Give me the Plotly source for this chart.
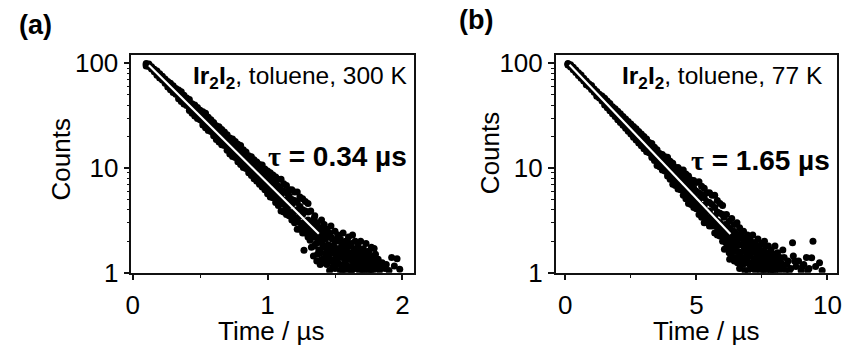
import numpy as np
import plotly.graph_objects as go

# ---------------- panel (a): Ir2I2 in toluene, 300 K ----------------
time_a = [0.10, 0.12, 0.14, 0.16, 0.18, 0.20, 0.22, 0.24, 0.26, 0.28,
          0.30, 0.32, 0.34, 0.36, 0.38, 0.40, 0.42, 0.44, 0.46, 0.48,
          0.50, 0.52, 0.54, 0.56, 0.58, 0.60, 0.62, 0.64, 0.66, 0.68,
          0.70, 0.72, 0.74, 0.76, 0.78, 0.80, 0.82, 0.84, 0.86, 0.88,
          0.90, 0.92, 0.94, 0.96, 0.98, 1.00, 1.02, 1.04, 1.06, 1.08,
          1.10, 1.12, 1.14, 1.16, 1.18, 1.20, 1.22, 1.24, 1.26, 1.28, 1.30]
upper_a = [99.5, 98.6, 93.0, 87.7, 84.6, 79.7, 75.2, 70.9, 67.2, 64.6,
           61.0, 57.5, 55.6, 53.5, 49.5, 46.6, 45.1, 41.2, 40.1, 37.8,
           35.6, 34.5, 33.4, 30.6, 28.9, 27.2, 25.4, 24.8, 23.4, 22.1,
           20.8, 19.4, 19.0, 17.9, 16.9, 16.4, 15.0, 14.2, 13.1, 12.8,
           12.0, 11.4, 10.8, 10.7, 9.8, 9.4, 9.0, 8.6, 8.2, 7.8,
           7.8, 7.1, 6.8, 6.2, 6.2, 5.9, 5.9, 5.3, 5.1, 4.8, 4.6]
mid_a = [97.0, 96.5, 90.0, 86.0, 80.0, 76.5, 71.0, 68.0, 63.0, 60.5,
         56.0, 54.0, 50.0, 48.0, 44.5, 42.5, 39.5, 38.0, 35.0, 33.8,
         31.2, 30.0, 27.7, 26.7, 24.6, 23.8, 21.8, 21.2, 19.4, 18.9,
         17.8, 16.1, 15.9, 14.3, 14.2, 12.7, 12.6, 11.2, 11.3, 10.0,
         10.0, 8.9, 8.9, 7.9, 7.9, 7.0, 7.1, 6.2, 6.3, 5.5,
         5.6, 4.9, 5.0, 4.4, 4.5, 3.9, 4.0, 3.5, 3.6, 3.1, 3.2]
lower_a = [94.5, 93.3, 88.1, 83.0, 76.8, 72.4, 69.5, 64.4, 59.3, 55.9,
           52.7, 50.8, 45.8, 43.2, 40.8, 39.5, 35.4, 33.3, 31.5, 29.7,
           28.9, 25.8, 24.3, 22.9, 22.3, 20.4, 18.7, 17.7, 16.7, 16.4,
           14.8, 13.6, 12.9, 12.6, 11.5, 10.8, 10.1, 9.9, 9.0, 8.5,
           7.9, 7.5, 7.0, 6.6, 6.2, 5.7, 5.3, 5.2, 4.7, 4.4,
           3.9, 3.8, 3.6, 3.5, 3.2, 3.0, 2.6, 2.6, 2.4, 2.4, 2.2]
inner_hi_a = [None] * 21 + [
              31.9, 30.1, 28.4, 26.8, 25.2, 24.0, 22.7, 21.4, 20.2,
              19.0, 18.2, 17.2, 16.2, 15.3, 14.4, 13.5, 12.7, 12.1, 11.4,
              10.7, 10.1, 9.5, 9.0, 8.5, 8.2, 7.6, 7.4, 7.1, 6.7,
              6.2, 6.0, 5.8, 5.4, 5.0, 4.9, 4.7, 4.3, 4.0, 3.9, 3.8]
inner_lo_a = [None] * 21 + [
              27.6, 26.0, 24.5, 23.1, 21.8, 20.3, 19.2, 18.1, 17.1,
              16.1, 15.0, 14.1, 13.3, 12.6, 11.9, 11.1, 10.5, 9.9, 9.4,
              8.8, 8.3, 7.8, 7.4, 7.0, 6.3, 6.0, 5.8, 5.3, 4.9,
              4.7, 4.5, 4.1, 3.8, 3.7, 3.4, 3.3, 3.0, 2.9, 2.7, 2.5]

tail_time_a = [1.27, 1.32, 1.32, 1.33, 1.34, 1.34, 1.35, 1.35, 1.36, 1.37,
               1.37, 1.38, 1.39, 1.39, 1.40, 1.40, 1.41, 1.41, 1.42, 1.43,
               1.43, 1.44, 1.44, 1.45, 1.46, 1.46, 1.47, 1.47, 1.48, 1.48,
               1.49, 1.50, 1.50, 1.51, 1.51, 1.52, 1.52, 1.53, 1.54, 1.54,
               1.55, 1.55, 1.56, 1.56, 1.57, 1.58, 1.58, 1.59, 1.59, 1.60,
               1.60, 1.61, 1.62, 1.62, 1.63, 1.63, 1.64, 1.65, 1.65, 1.66,
               1.67, 1.67, 1.68, 1.68, 1.69, 1.70, 1.70, 1.71, 1.72, 1.72,
               1.73, 1.74, 1.75, 1.75, 1.76, 1.77, 1.77, 1.78, 1.79, 1.79,
               1.80, 1.81, 1.82, 1.83, 1.85, 1.87, 1.88, 1.90, 1.92, 1.94,
               1.96, 1.98,
               1.33, 1.345, 1.355, 1.365, 1.375, 1.385, 1.395, 1.405, 1.415, 1.425,
               1.435, 1.445, 1.455, 1.465, 1.475, 1.485, 1.495, 1.505, 1.515, 1.525,
               1.535, 1.545, 1.555, 1.565, 1.575, 1.585, 1.595, 1.605, 1.615, 1.625,
               1.635, 1.645, 1.655, 1.665, 1.675, 1.685, 1.695, 1.705, 1.715, 1.725,
               1.735, 1.745, 1.755, 1.765, 1.775, 1.785, 1.795, 1.805, 1.815, 1.835,
               1.305, 1.315, 1.325, 1.335, 1.345, 1.36, 1.37, 1.38, 1.39, 1.40,
               1.41, 1.42, 1.43, 1.44, 1.45, 1.46, 1.47, 1.48, 1.49, 1.50,
               1.51, 1.52, 1.53, 1.54, 1.55, 1.56, 1.57, 1.58, 1.59, 1.60,
               1.61, 1.62, 1.63, 1.64, 1.66, 1.68, 1.70, 1.72, 1.74, 1.76]
tail_counts_a = [1.64, 3.9, 2.6, 3.1, 2.2, 1.45, 3.5, 2.8, 1.9, 3.0,
                 2.4, 1.65, 2.7, 2.0, 1.34, 3.2, 2.3, 1.75, 2.9, 1.5,
                 2.1, 2.6, 1.2, 1.85, 2.4, 1.05, 1.6, 2.8, 2.1, 1.3,
                 1.8, 2.5, 1.1, 1.5, 2.0, 1.25, 2.3, 1.7, 2.1, 1.05,
                 1.45, 1.85, 2.4, 1.2, 1.6, 2.0, 1.05, 1.35, 1.75, 2.2,
                 1.15, 1.55, 1.9, 1.05, 1.3, 2.3, 1.7, 1.1, 2.0, 1.45,
                 1.8, 1.2, 1.05, 1.6, 2.0, 1.35, 1.1, 1.7, 1.5, 1.05,
                 1.9, 1.25, 1.6, 1.05, 1.4, 1.75, 1.15, 1.05, 1.71, 1.3,
                 1.5, 1.1, 1.35, 1.05, 1.25, 1.1, 1.2, 1.05, 1.4, 1.16,
                 1.36, 1.08,
                 2.4, 1.8, 2.5, 1.3, 2.05, 2.4, 1.55, 1.9, 1.25, 2.2,
                 1.75, 1.45, 2.25, 1.35, 1.75, 1.15, 2.05, 1.4, 1.2, 1.6,
                 1.4, 1.7, 1.05, 1.9, 1.25, 1.55, 1.15, 1.8, 1.35, 1.05,
                 1.55, 1.25, 1.55, 1.3, 1.15, 1.45, 1.25, 1.05, 1.4, 1.25,
                 1.15, 1.6, 1.3, 1.05, 1.2, 1.45, 1.1, 1.3, 1.2, 1.15,
                 2.9, 2.05, 1.75, 2.6, 3.3, 2.6, 1.5, 2.2, 1.2, 2.6,
                 1.35, 2.1, 2.45, 1.65, 1.35, 1.8, 2.2, 1.55, 1.15, 1.6,
                 1.25, 1.7, 2.05, 1.55, 1.15, 1.75, 1.35, 1.55, 2.0, 1.35,
                 1.1, 1.45, 1.1, 1.2, 1.25, 1.35, 1.55, 1.25, 1.1, 1.2]

# single-exponential fit, panel (a)
fit_range_a = [0.12, 1.38]
fit_amp_a = 96.0
tau_a = 0.34  # µs

# ---------------- panel (b): Ir2I2 in toluene, 77 K ----------------
time_b = [0.1, 0.2, 0.3, 0.4, 0.5, 0.6, 0.7, 0.8, 0.9, 1.0,
          1.1, 1.2, 1.3, 1.4, 1.5, 1.6, 1.7, 1.8, 1.9, 2.0,
          2.1, 2.2, 2.3, 2.4, 2.5, 2.6, 2.7, 2.8, 2.9, 3.0,
          3.1, 3.2, 3.3, 3.4, 3.5, 3.6, 3.7, 3.8, 3.9, 4.0,
          4.1, 4.2, 4.3, 4.4, 4.5, 4.6, 4.7, 4.8, 4.9, 5.0,
          5.1, 5.2, 5.3, 5.4, 5.5, 5.6, 5.7, 5.8, 5.9, 6.0]
upper_b = [99.5, 97.2, 91.6, 86.3, 81.2, 77.5, 72.1, 67.9, 63.9, 61.5,
           57.0, 53.7, 50.7, 48.8, 46.5, 43.6, 41.3, 38.6, 36.8, 34.8,
           33.0, 31.0, 29.4, 27.8, 26.3, 24.9, 23.7, 22.4, 21.2, 20.0,
           19.0, 17.5, 17.2, 15.8, 15.0, 13.8, 13.5, 12.8, 12.7, 11.6,
           11.1, 10.1, 10.1, 9.6, 9.6, 8.8, 8.4, 7.7, 7.6, 7.3,
           7.4, 6.7, 6.4, 5.8, 5.8, 5.5, 5.5, 4.9, 4.6, 4.4]
mid_b = [98.0, 94.5, 89.5, 83.5, 79.3, 74.0, 70.3, 65.5, 62.3, 58.0,
         55.3, 51.3, 49.0, 45.4, 43.4, 40.2, 38.5, 35.6, 34.2, 31.5,
         30.3, 27.8, 26.9, 24.6, 23.9, 21.8, 21.2, 19.3,
         18.7, 17.0, 16.6, 15.0, 14.7, 13.3, 13.1, 11.8, 11.6, 10.4,
         10.3, 9.2, 9.1, 8.2, 8.1, 7.2, 7.2, 6.4, 6.3, 5.7,
         5.6, 5.0, 5.0, 4.4, 4.4, 3.9, 3.9, 3.5, 3.4, 3.1, 3.0, 2.7]
lower_b = [96.5, 92.2, 86.7, 81.6, 76.7, 72.2, 67.8, 62.6, 60.0, 56.4,
           53.0, 48.4, 46.7, 43.8, 40.0, 37.6, 35.3, 33.0, 31.1, 29.0,
           27.3, 25.6, 24.0, 22.5, 21.1, 19.7, 18.5, 17.4, 16.3, 15.3,
           14.3, 14.0, 12.6, 11.8, 10.6, 10.3, 9.6, 9.4, 8.4, 7.8,
           7.0, 6.8, 6.3, 6.2, 5.5, 5.1, 4.6, 4.5, 4.2, 4.1,
           3.6, 3.4, 3.0, 3.0, 2.8, 2.8, 2.4, 2.3, 2.25, 2.0]
inner_hi_b = [None] * 29 + [
              18.6, 17.6, 16.6, 15.7, 14.8, 14.0, 13.2, 12.4, 11.7, 11.0,
              10.4, 10.1, 9.4, 8.8, 8.5, 8.0, 7.5, 7.2, 6.9, 6.4,
              6.0, 5.8, 5.6, 5.2, 4.8, 4.7, 4.5, 4.2, 3.8, 3.7, 3.6]
inner_lo_b = [None] * 29 + [
              16.2, 15.2, 14.2, 13.3, 12.5, 11.7, 11.0, 10.3, 9.7, 9.1,
              8.6, 8.0, 7.4, 7.0, 6.7, 6.2, 5.8, 5.5, 5.1, 4.7,
              4.5, 4.3, 3.9, 3.7, 3.4, 3.3, 3.1, 2.85, 2.7, 2.5, 2.35]

tail_time_b = [6.05, 6.05, 6.07, 6.10, 6.15, 6.15, 6.20, 6.25, 6.25, 6.30,
               6.35, 6.35, 6.40, 6.45, 6.45, 6.50, 6.55, 6.55, 6.60, 6.65,
               6.65, 6.70, 6.75, 6.75, 6.80, 6.85, 6.85, 6.90, 6.95, 6.95,
               7.00, 7.05, 7.05, 7.10, 7.15, 7.15, 7.20, 7.25, 7.25, 7.30,
               7.35, 7.35, 7.40, 7.45, 7.45, 7.50, 7.55, 7.60, 7.60, 7.65,
               7.70, 7.75, 7.75, 7.80, 7.85, 7.85, 7.90, 7.95, 8.00, 8.00,
               8.05, 8.10, 8.15, 8.20, 8.30, 8.30, 8.40, 8.50, 8.60, 8.67,
               8.70, 8.80, 8.90, 9.00, 9.10, 9.20, 9.30, 9.40, 9.45, 9.55,
               9.70, 9.80,
               6.12, 6.17, 6.22, 6.27, 6.32, 6.37, 6.42, 6.47, 6.52, 6.57,
               6.62, 6.67, 6.72, 6.77, 6.82, 6.87, 6.92, 6.97, 7.02, 7.07,
               7.12, 7.17, 7.22, 7.27, 7.32, 7.37, 7.42, 7.47, 7.52, 7.57,
               7.62, 7.67, 7.72, 7.77, 7.82, 7.87, 7.92, 7.97, 8.02, 8.07,
               8.12, 8.17, 8.22, 8.27, 8.35, 8.45, 8.55, 8.75, 9.05, 9.25,
               6.02, 6.09, 6.13, 6.18, 6.23, 6.28, 6.33, 6.38, 6.43, 6.48,
               6.53, 6.58, 6.63, 6.68, 6.73, 6.78, 6.83, 6.88, 6.93, 6.98,
               7.03, 7.08, 7.13, 7.18, 7.23, 7.28, 7.33, 7.38, 7.43, 7.48,
               7.53, 7.58, 7.63, 7.68, 7.73, 7.78, 7.83, 7.88, 7.93, 7.98]
tail_counts_b = [3.4, 2.2, 1.68, 2.9, 2.5, 3.6, 2.0, 3.1, 1.55, 2.6,
                 2.2, 3.3, 1.8, 2.9, 1.3, 2.4, 2.0, 3.0, 1.6, 2.7,
                 1.1, 2.2, 1.85, 1.4, 2.5, 1.05, 2.0, 1.6, 2.3, 1.25,
                 1.85, 2.1, 1.45, 1.1, 1.7, 2.3, 1.35, 1.95, 1.05, 1.55,
                 2.1, 1.2, 1.75, 1.4, 1.05, 1.9, 1.25, 1.6, 2.0, 1.05,
                 1.45, 1.8, 1.2, 1.35, 1.65, 1.05, 1.2, 1.5, 1.05, 1.8,
                 1.3, 1.55, 1.1, 1.4, 1.2, 1.65, 1.05, 1.3, 1.1, 1.94,
                 1.45, 1.15, 1.3, 1.05, 1.2, 1.4, 1.1, 1.39, 2.0, 1.15,
                 1.25, 1.05,
                 2.3, 1.85, 2.7, 1.35, 2.35, 1.7, 2.45, 1.6, 2.0, 1.25,
                 2.3, 1.55, 1.3, 2.1, 1.75, 1.4, 2.05, 1.05, 1.55, 1.25,
                 1.9, 1.15, 1.6, 1.35, 1.2, 1.8, 1.1, 1.6, 1.3, 1.05,
                 1.45, 1.25, 1.15, 1.55, 1.05, 1.3, 1.45, 1.1, 1.35, 1.5,
                 1.2, 1.05, 1.25, 1.1, 1.4, 1.2, 1.05, 1.3, 1.15, 1.05,
                 2.7, 2.5, 1.95, 2.8, 1.75, 2.25, 1.45, 2.0, 2.5, 1.7,
                 1.4, 2.2, 1.85, 1.35, 2.45, 1.2, 1.6, 2.15, 1.35, 1.7,
                 1.2, 1.65, 1.95, 1.25, 1.55, 1.15, 1.75, 1.4, 1.2, 1.6,
                 1.1, 1.35, 1.8, 1.2, 1.35, 1.1, 1.45, 1.25, 1.05, 1.35]

# single-exponential fit, panel (b)
fit_range_b = [0.16, 6.30]
fit_amp_b = 97.0
tau_b = 1.65  # µs

FONT = "Liberation Sans, Arial, Helvetica, sans-serif"
INK = "#111111"


def gather(xs_list, ys_list):
    xs, ys = [], []
    for xs_i, ys_i in zip(xs_list, ys_list):
        for x, y in zip(xs_i, ys_i):
            if y is not None:
                xs.append(x)
                ys.append(y)
    return xs, ys


def fit_curve(xr, amp, tau):
    x = np.array(xr)
    return x, amp * np.exp(-(x - xr[0]) / tau)


fig = go.Figure()

panels = [
    ("x", "y",
     [time_a, time_a, time_a, time_a, time_a, tail_time_a],
     [upper_a, mid_a, lower_a, inner_hi_a, inner_lo_a, tail_counts_a],
     fit_range_a, fit_amp_a, tau_a),
    ("x2", "y2",
     [time_b, time_b, time_b, time_b, time_b, tail_time_b],
     [upper_b, mid_b, lower_b, inner_hi_b, inner_lo_b, tail_counts_b],
     fit_range_b, fit_amp_b, tau_b),
]

for xa, ya, xl, yl, fr, amp, tau in panels:
    xs, ys = gather(xl, yl)
    fig.add_trace(go.Scatter(
        x=xs, y=ys, mode="markers", xaxis=xa, yaxis=ya,
        marker=dict(color="#000000", size=7, line=dict(width=0)),
        hoverinfo="skip"))
    fx, fy = fit_curve(fr, amp, tau)
    fig.add_trace(go.Scatter(
        x=fx, y=fy, mode="lines", xaxis=xa, yaxis=ya,
        line=dict(color="#ffffff", width=2.2), hoverinfo="skip"))

W, H = 848, 347
y_dom = [(H - 284) / H, (H - 52) / H]
y_minor = [2, 3, 4, 5, 6, 7, 8, 9, 20, 30, 40, 50, 60, 70, 80, 90]

common_x = dict(showgrid=False, zeroline=False, showline=True, linecolor=INK,
                linewidth=1.6, mirror=True, ticks="outside", ticklen=5,
                tickwidth=1.5, tickcolor=INK, ticklabelstandoff=3,
                tickfont=dict(family=FONT, size=26, color="#000"))
common_y = dict(type="log", range=[0, 2.081], domain=y_dom, showgrid=False,
                zeroline=False, showline=True, linecolor=INK, linewidth=1.6,
                mirror=True, ticks="outside", ticklen=6, tickwidth=1.5,
                tickcolor=INK, tickvals=[1, 10, 100], ticktext=["1", "10", "100"],
                tickfont=dict(family=FONT, size=26, color="#000"),
                minor=dict(tickvals=y_minor, ticks="outside", ticklen=3,
                           tickwidth=1, tickcolor=INK))

fig.update_layout(
    width=W, height=H, margin=dict(l=0, r=0, t=0, b=0),
    paper_bgcolor="white", plot_bgcolor="white", showlegend=False,
    font=dict(family=FONT, color="#000"),
    xaxis=dict(domain=[127 / W, 413 / W], range=[-0.01, 2.083], anchor="y",
               tickvals=[0, 1, 2],
               minor=dict(tickvals=[0.5, 1.5], ticks="outside", ticklen=3,
                          tickwidth=1, tickcolor=INK),
               **common_x),
    yaxis=dict(anchor="x", **common_y),
    xaxis2=dict(domain=[557 / W, 842 / W], range=[-0.365, 10.37], anchor="y2",
                tickvals=[0, 5, 10],
                minor=dict(tickvals=[2.5, 7.5], ticks="outside", ticklen=3,
                           tickwidth=1, tickcolor=INK),
                **common_x),
    yaxis2=dict(anchor="x2", **common_y),
)


def paper_ann(text, px, py, size, xanchor="center", yanchor="middle", angle=0):
    fig.add_annotation(text=text, x=px / W, y=(H - py) / H, xref="paper",
                       yref="paper", showarrow=False, xanchor=xanchor,
                       yanchor=yanchor, textangle=angle, borderpad=0,
                       font=dict(family=FONT, size=size, color="#000"))


TAU = '<span style="font-family:Liberation Serif">τ</span>'

# panel letters
paper_ann("<b>(a)</b>", 30, 20, 27)
paper_ann("<b>(b)</b>", 476, 15, 27)

# axis titles
paper_ann("Counts", 56, 163, 26, angle=-90)
paper_ann("Counts", 491, 157, 26, angle=-90)
paper_ann("Time / µs", 268, 346, 26)
paper_ann("Time / µs", 709, 346, 26)

# sample labels
paper_ann("<b>Ir<sub>2</sub>I<sub>2</sub></b>, toluene, 300 K", 408, 76, 24.5,
          xanchor="right")
paper_ann("<b>Ir<sub>2</sub>I<sub>2</sub></b>, toluene, 77 K", 829, 76, 24.5,
          xanchor="right")

# lifetimes
paper_ann(f"<b>{TAU} = {tau_a:.2f} µs</b>", 407, 160, 28, xanchor="right")
paper_ann(f"<b>{TAU} = {tau_b:.2f} µs</b>", 836, 164, 28, xanchor="right")

fig.write_html("out.html")
